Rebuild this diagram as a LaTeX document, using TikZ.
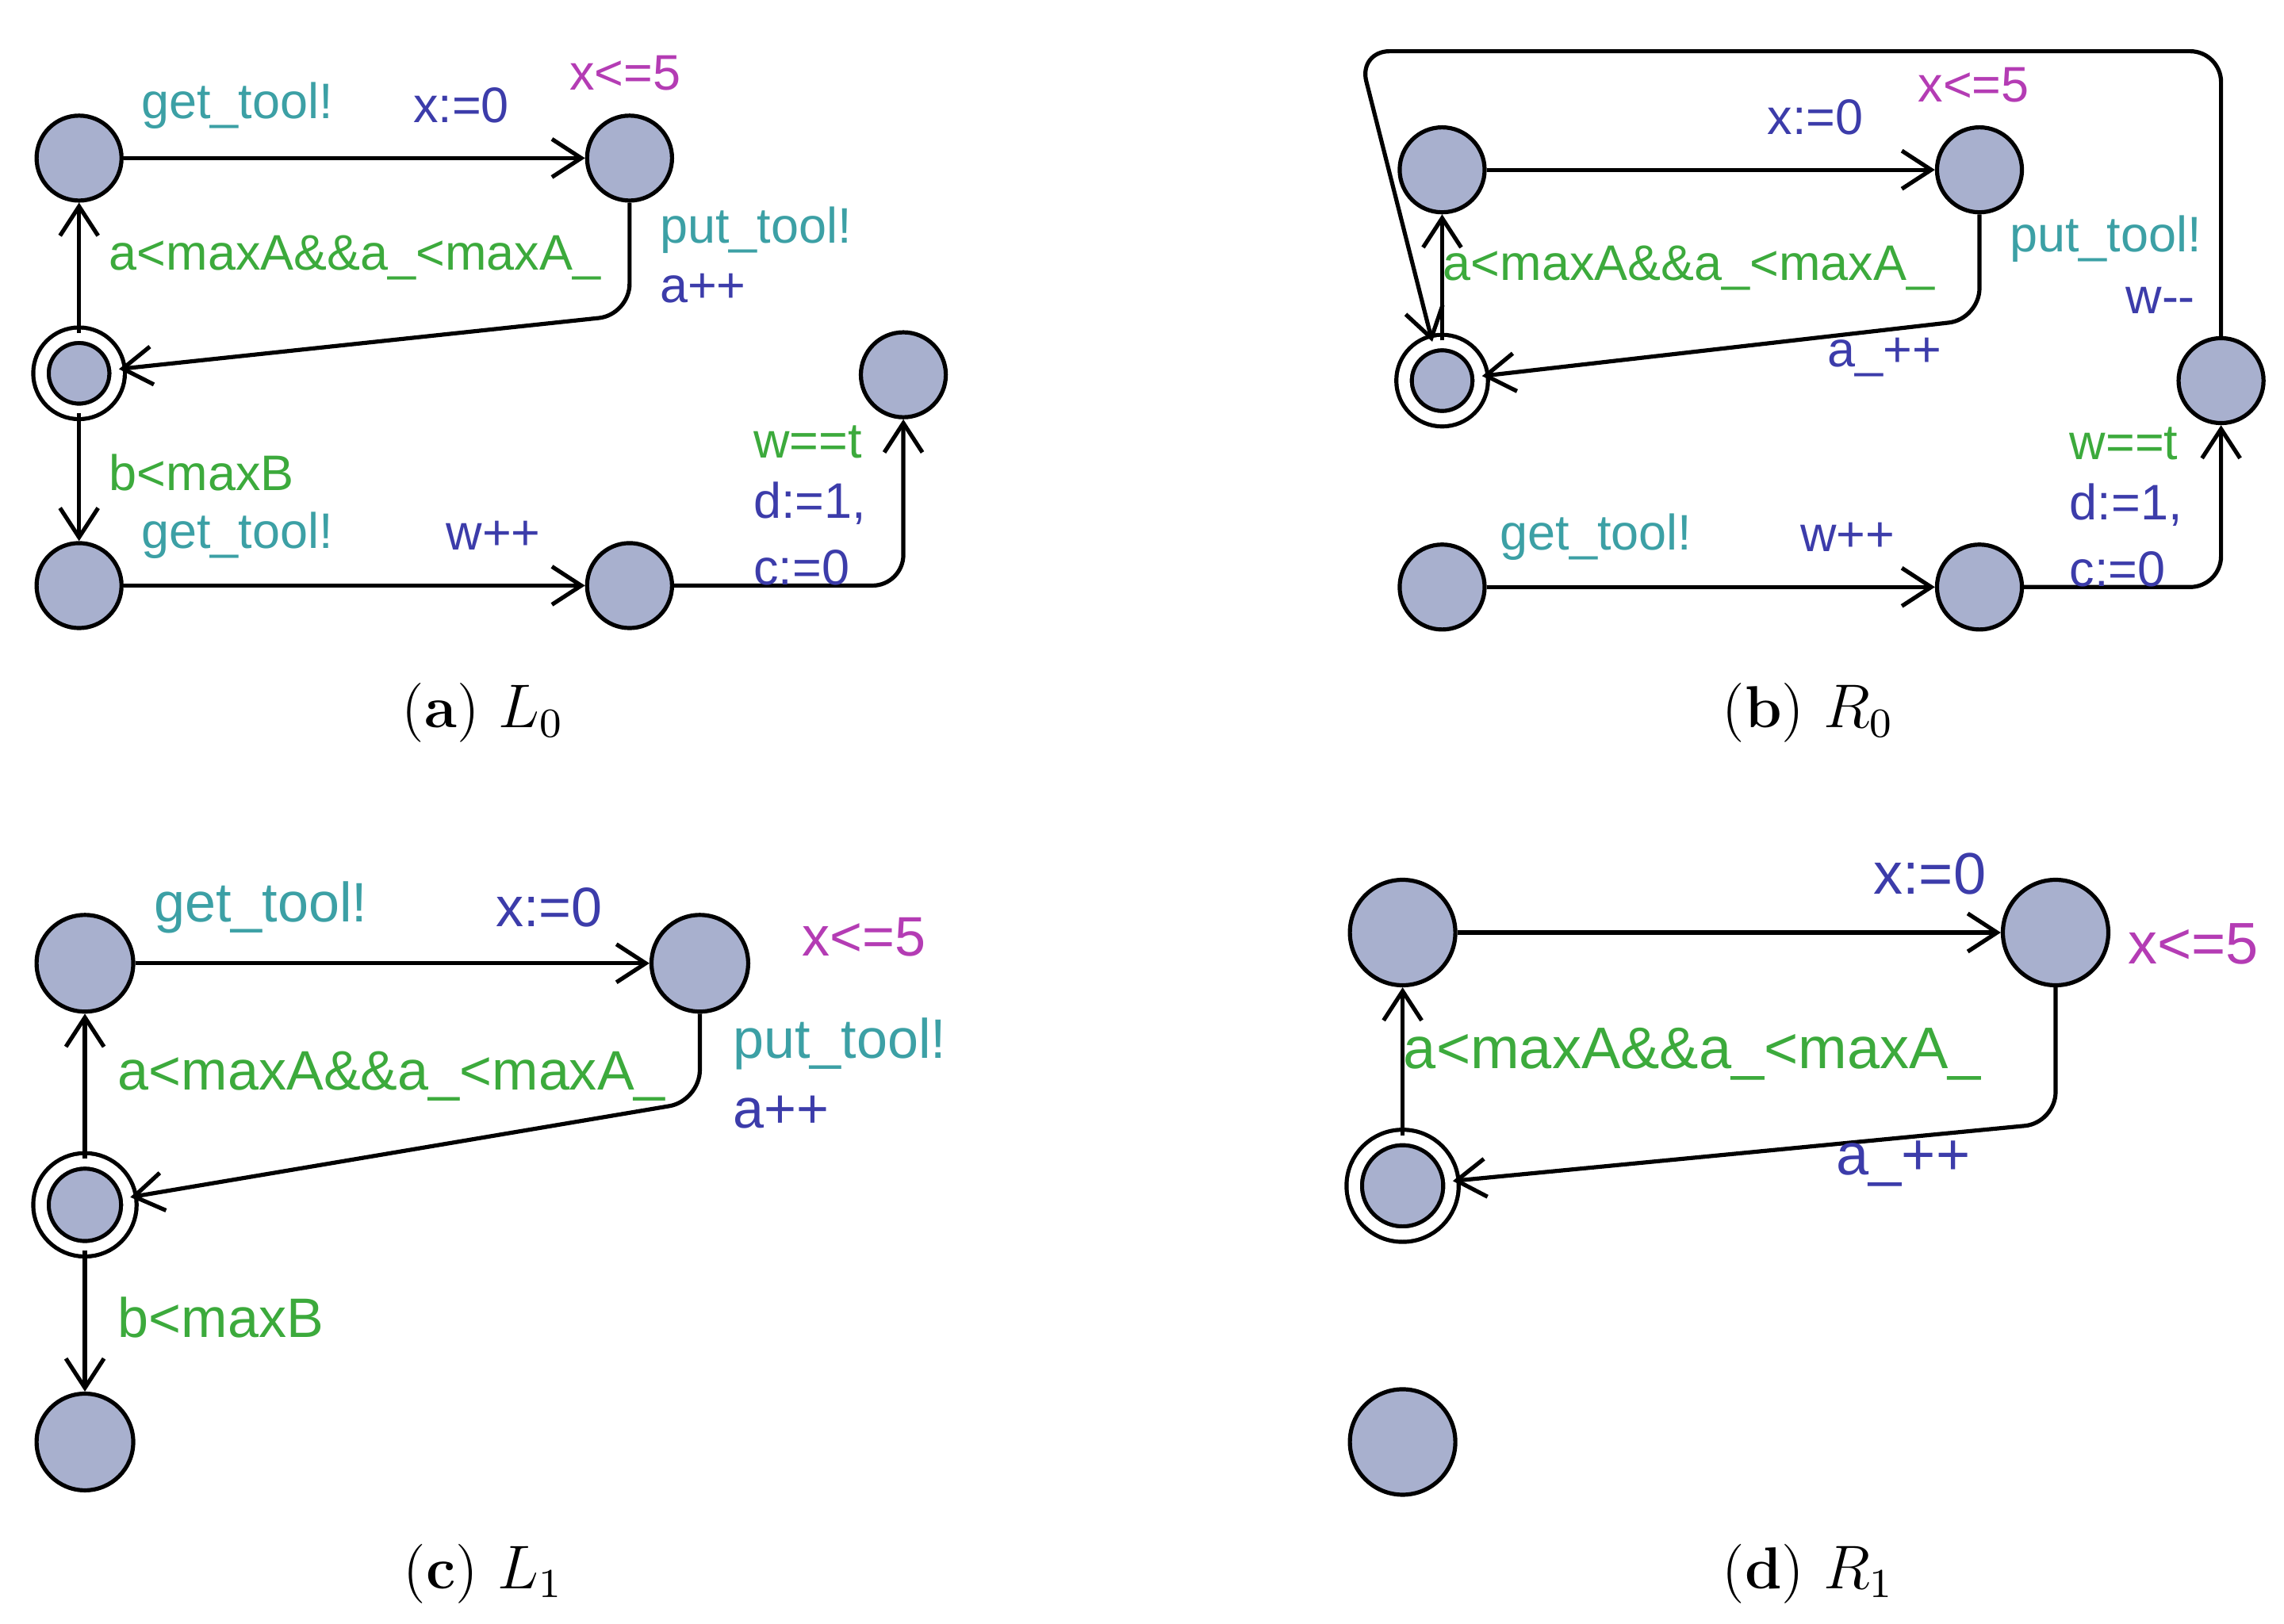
\documentclass[tikz,border=0pt]{standalone}
\usepackage{fontspec}
\setmainfont{Latin Modern Roman}
\newfontfamily\lab{Liberation Sans}
\usetikzlibrary{arrows.meta}
\definecolor{nfill}{RGB}{168,176,206}
\definecolor{csync}{RGB}{60,160,165}
\definecolor{cgrd}{RGB}{60,170,60}
\definecolor{cupd}{RGB}{60,60,170}
\definecolor{cinv}{RGB}{180,60,180}
\begin{document}
\begin{tikzpicture}[x=0.01cm,y=-0.01cm,
  st/.style={circle,draw,line width=0.8pt,fill=nfill,inner sep=0pt,minimum size=#1},
  ini/.style={st=#1,double,double distance=2.2pt},
  e/.style={line width=0.8pt,-{Straight Barb[length=2mm,width=2.6mm]},rounded corners=6pt},
  l/.style={font=\lab\fontsize{9.7}{11}\selectfont,inner sep=0pt},
  lc/.style={font=\lab\fontsize{10.8}{12}\selectfont,inner sep=0pt},
  ld/.style={font=\lab\fontsize{11.4}{13}\selectfont,inner sep=0pt},
  capt/.style={font=\fontsize{11.5}{14}\selectfont}]
\useasboundingbox (0,0) rectangle (1560,1109);
% (a)
\node[st=5.8mm] (a1) at (54,108) {};
\node[st=5.8mm] (a2) at (430,108) {};
\node[ini=5.2mm] (a3) at (54,255) {};
\node[st=5.8mm] (a4) at (617,256) {};
\node[st=5.8mm] (a5) at (54,400) {};
\node[st=5.8mm] (a6) at (430,400) {};
\draw[e] (a1) -- (a2);
\draw[e] (a2.south) -- (430,215) -- (a3);
\draw[e] (a3) -- (a1);
\draw[e] (a3) -- (a5);
\draw[e] (a5) -- (a6);
\draw[e] (a6) -- (617,400) -- (a4);
\node[l,text=csync] (ta1) at (162,72) {get\_tool!};
\node[l,text=cupd] (ta2) at (315,72) {x:=0};
\node[l,text=cinv] (ta3) at (427,50) {x<=5};
\node[l,text=csync,anchor=west] (ta4) at (450,157) {put\_tool!};
\node[l,text=cupd,anchor=west] (ta5) at (450,197) {a++};
\node[l,text=cgrd,anchor=west] (ta6) at (74,176) {a<maxA\&\&a\_<maxA\_};
\node[l,text=cgrd,anchor=west] (ta7) at (74,323) {b<maxB};
\node[l,text=csync] (ta8) at (162,366) {get\_tool!};
\node[l,text=cupd] (ta9) at (337,366) {w++};
\node[l,text=cgrd,anchor=west] (ta10) at (514,302) {w==t};
\node[l,text=cupd,anchor=west] (ta11) at (514,344) {d:=1,};
\node[l,text=cupd,anchor=west] (ta12) at (514,388) {c:=0};
\node[capt] (ca) at (330,487) {(\textbf{a}) $L_0$};
% (b)
\node[st=5.8mm] (b1) at (985,116) {};
\node[st=5.8mm] (b2) at (1352,116) {};
\node[ini=5.2mm] (b3) at (985,260) {};
\node[st=5.8mm] (b4) at (1517,260) {};
\node[st=5.8mm] (b5) at (985,401) {};
\node[st=5.8mm] (b6) at (1352,401) {};
\draw[e] (b1) -- (b2);
\draw[e] (b2.south) -- (1352,218) -- (b3);
\draw[e] (b3) -- (b1);
\draw[e] (b4.north) -- (1517,35) -- (928,35) -- (b3);
\draw[e] (b5) -- (b6);
\draw[e] (b6) -- (1517,401) -- (b4);
\node[l,text=cupd] (tb1) at (1240,80) {x:=0};
\node[l,text=cinv] (tb2) at (1348,58) {x<=5};
\node[l,text=csync,anchor=west] (tb3) at (1372,163) {put\_tool!};
\node[l,text=cupd,anchor=east] (tb4) at (1500,205) {w-{}-};
\node[l,text=cgrd,anchor=west] (tb5) at (985,183) {a<maxA\&\&a\_<maxA\_};
\node[l,text=cupd] (tb6) at (1287,244) {a\_++};
\node[l,text=csync] (tb7) at (1090,367) {get\_tool!};
\node[l,text=cupd] (tb8) at (1262,367) {w++};
\node[l,text=cgrd,anchor=west] (tb9) at (1413,303) {w==t};
\node[l,text=cupd,anchor=west] (tb10) at (1413,345) {d:=1,};
\node[l,text=cupd,anchor=west] (tb11) at (1413,389) {c:=0};
\node[capt] (cb) at (1235,487) {(\textbf{b}) $R_0$};
% (c)
\node[st=6.6mm] (c1) at (58,658) {};
\node[st=6.6mm] (c2) at (478,658) {};
\node[ini=6mm] (c3) at (58,823) {};
\node[st=6.6mm] (c4) at (58,985) {};
\draw[e] (c1) -- (c2);
\draw[e] (c2.south) -- (478,752) -- (c3);
\draw[e] (c3) -- (c1);
\draw[e] (c3) -- (c4);
\node[lc,text=csync] (tc1) at (178,620) {get\_tool!};
\node[lc,text=cupd] (tc2) at (375,620) {x:=0};
\node[lc,text=cinv] (tc3) at (590,640) {x<=5};
\node[lc,text=csync,anchor=west] (tc4) at (500,713) {put\_tool!};
\node[lc,text=cupd,anchor=west] (tc5) at (500,760) {a++};
\node[lc,text=cgrd,anchor=west] (tc6) at (80,735) {a<maxA\&\&a\_<maxA\_};
\node[lc,text=cgrd,anchor=west] (tc7) at (80,900) {b<maxB};
\node[capt] (cc) at (330,1075) {(\textbf{c}) $L_1$};
% (d)
\node[st=7.2mm] (d1) at (958,637) {};
\node[st=7.2mm] (d2) at (1404,637) {};
\node[ini=6.6mm] (d3) at (958,810) {};
\node[st=7.2mm] (d4) at (958,985) {};
\draw[e] (d1) -- (d2);
\draw[e] (d2.south) -- (1404,767) -- (d3);
\draw[e] (d3) -- (d1);
\node[ld,text=cupd] (td1) at (1318,597) {x:=0};
\node[ld,text=cinv] (td2) at (1498,645) {x<=5};
\node[ld,text=cgrd,anchor=west] (td3) at (958,720) {a<maxA\&\&a\_<maxA\_};
\node[ld,text=cupd] (td4) at (1300,795) {a\_++};
\node[capt] (cd) at (1235,1075) {(\textbf{d}) $R_1$};
\end{tikzpicture}
\end{document}
